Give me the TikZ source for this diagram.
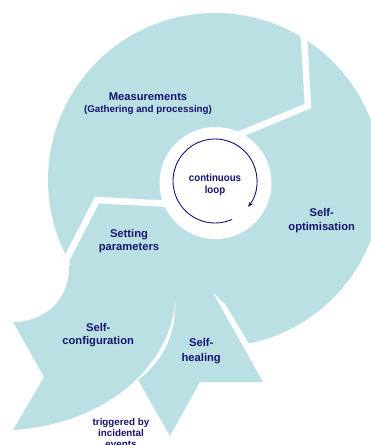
\documentclass[tikz,border=0pt]{standalone}
\usepackage{fontspec}
\setmainfont{Liberation Sans}
\usetikzlibrary{arrows.meta}
\definecolor{tealfill}{RGB}{187,224,227}
\definecolor{navy}{RGB}{20,20,110}
\begin{document}
\begin{tikzpicture}[x=1pt,y=1pt,
  lab/.style={text=navy,font=\bfseries\fontsize{11.2}{13.5}\selectfont,inner sep=0pt,anchor=base},
  small/.style={text=navy,font=\bfseries\fontsize{9.8}{11}\selectfont,inner sep=0pt,anchor=base},
  looplab/.style={text=navy,font=\bfseries\fontsize{10.5}{12}\selectfont,inner sep=0pt,anchor=base,transform shape,xscale=0.92},
  gapline/.style={draw=white,line width=6.5pt},
  segment/.style={fill=tealfill},
  cutout/.style={fill=white}]
\useasboundingbox (0,0) rectangle (371,-445);
% outer disk
\fill[segment] (215,-180) circle[radius=167];
% wedge between self-healing and self-optimisation
\fill[cutout] (213,-293) -- (225,-304) -- (249,-344) -- (300,-360) -- (300,-400) -- (263,-382) -- cycle;
% self-configuration arrow
\fill[segment] (69,-265) .. controls (70,-300) and (45,-322) .. (13,-322) -- (44,-377) -- (13,-430)
  .. controls (100,-425) and (170,-370) .. (175,-302) -- (150,-250) -- cycle;
% self-healing arrow
\fill[segment] (175,-302) .. controls (176,-335) and (163,-360) .. (138,-380) -- (170,-436) -- (200,-382)
  -- (263,-382) -- (213,-293) -- cycle;
% centre hole
\fill[cutout] (215.5,-183) circle[radius=56];
% slit between configuration and healing
\fill[cutout] (175,-302) .. controls (176,-335) and (163,-360) .. (138,-380) -- (133.1,-382.5)
  .. controls (157.36,-360.47) and (172.75,-332.6) .. (175,-302) -- cycle;
% white gaps
\draw[gapline] (303,-20) -- (308,-106) -- (238,-135);
\draw[gapline] (170,-204) -- (97,-200) -- (64,-264);
% continuous loop arrow
\draw[navy,line width=0.9pt,-{Stealth[length=5pt,width=4pt]}]
  ([shift={(-66:42)}]215,-181) arc[start angle=-66,end angle=-398,radius=42];
% labels
\node[lab] (meas) at (148,-100) {Measurements};
\node[small] (gath) at (148,-112) {(Gathering and processing)};
\node[looplab] (cont) at (215,-181.7) {continuous};
\node[looplab] (loop) at (215,-193.3) {loop};
\node[lab] (opt1) at (321.7,-216.5) {Self-};
\node[lab] (opt2) at (321.7,-230) {optimisation};
\node[lab] (set1) at (129,-237.5) {Setting};
\node[lab] (set2) at (129,-250.7) {parameters};
\node[lab] (conf1) at (98.2,-331) {Self-};
\node[lab] (conf2) at (98.2,-344.5) {configuration};
\node[lab] (heal1) at (201.2,-346.7) {Self-};
\node[lab] (heal2) at (201.2,-361) {healing};
\node[small] (trig1) at (121,-425.7) {triggered by};
\node[small] (trig2) at (121,-436.7) {incidental};
\node[small] (trig3) at (121,-447.7) {events};
\end{tikzpicture}
\end{document}
